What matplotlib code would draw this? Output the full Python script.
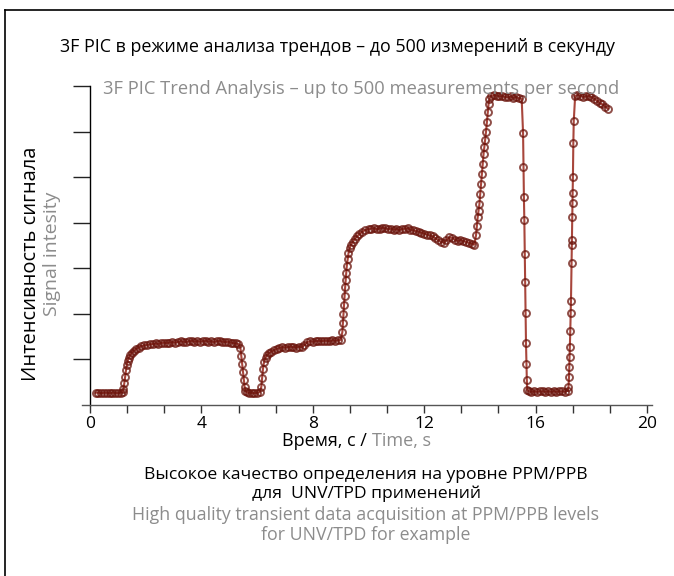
import matplotlib
matplotlib.use("Agg")
import matplotlib.pyplot as plt
from matplotlib.lines import Line2D
from matplotlib.ticker import MultipleLocator, FixedLocator, NullFormatter

plt.rcParams['font.family'] = ['Open Sans', 'DejaVu Sans']

# ---- data ----
t_base = [0.2, 0.3, 0.4, 0.5, 0.6, 0.7, 0.8, 0.9, 1.0, 1.1, 1.17]
v_base = [0.27, 0.27, 0.26, 0.27, 0.27, 0.26, 0.27, 0.27, 0.26, 0.27, 0.28]

t_rise1 = [1.20, 1.23, 1.26, 1.29, 1.32, 1.35, 1.39, 1.44, 1.50, 1.57, 1.65, 1.74, 1.84, 1.95]
v_rise1 = [0.36, 0.48, 0.62, 0.76, 0.88, 0.97, 1.04, 1.10, 1.15, 1.19, 1.23, 1.26, 1.29, 1.31]

t_plat1 = [2.05, 2.15, 2.25, 2.35, 2.45, 2.55, 2.65, 2.75, 2.85, 2.95, 3.05, 3.15, 3.25, 3.35,
           3.45, 3.55, 3.65, 3.75, 3.85, 3.95, 4.05, 4.15, 4.25, 4.35, 4.45, 4.55, 4.65, 4.75,
           4.85, 4.95, 5.05, 5.15, 5.25, 5.33]
v_plat1 = [1.32, 1.33, 1.34, 1.35, 1.34, 1.36, 1.37, 1.36, 1.37, 1.38, 1.37, 1.38, 1.40, 1.39,
           1.38, 1.40, 1.41, 1.39, 1.40, 1.39, 1.40, 1.41, 1.39, 1.40, 1.38, 1.40, 1.41, 1.39,
           1.38, 1.39, 1.37, 1.36, 1.35, 1.34]

t_drop1 = [5.40, 5.43, 5.46, 5.49, 5.52, 5.55, 5.58]
v_drop1 = [1.25, 1.08, 0.90, 0.72, 0.55, 0.40, 0.31]

t_low1 = [5.62, 5.70, 5.80, 5.90, 6.00, 6.10]
v_low1 = [0.28, 0.27, 0.27, 0.26, 0.27, 0.28]

t_rise2 = [6.15, 6.18, 6.21, 6.25, 6.30, 6.36, 6.43, 6.50]
v_rise2 = [0.40, 0.60, 0.80, 0.95, 1.04, 1.10, 1.14, 1.17]

t_plat2 = [6.6, 6.7, 6.8, 6.9, 7.0, 7.1, 7.2, 7.3, 7.4, 7.5, 7.6, 7.7, 7.8, 7.9, 8.0, 8.1,
           8.2, 8.3, 8.4, 8.5, 8.6, 8.7, 8.8, 8.9, 9.0]
v_plat2 = [1.20, 1.23, 1.25, 1.27, 1.26, 1.27, 1.28, 1.27, 1.26, 1.28, 1.27, 1.32, 1.38, 1.40,
           1.39, 1.40, 1.41, 1.40, 1.41, 1.41, 1.40, 1.42, 1.41, 1.42, 1.43]

t_rise3 = [9.06, 9.08, 9.10, 9.12, 9.14, 9.16, 9.18, 9.20, 9.22, 9.25, 9.28, 9.32, 9.37, 9.43,
           9.50, 9.58, 9.67, 9.77, 9.88, 10.0]
v_rise3 = [1.60, 1.80, 2.00, 2.20, 2.40, 2.58, 2.75, 2.90, 3.05, 3.20, 3.33, 3.44, 3.52, 3.58,
           3.64, 3.70, 3.75, 3.80, 3.84, 3.86]

t_plat3 = [10.1, 10.2, 10.3, 10.4, 10.5, 10.6, 10.7, 10.8, 10.9, 11.0, 11.1, 11.2, 11.3, 11.4,
           11.5, 11.6, 11.7, 11.8, 11.9, 12.0, 12.1, 12.2, 12.3, 12.4, 12.5, 12.6, 12.7, 12.8,
           12.9, 13.0, 13.1, 13.2, 13.3, 13.4, 13.5, 13.6, 13.7, 13.8]
v_plat3 = [3.87, 3.88, 3.86, 3.87, 3.89, 3.88, 3.86, 3.87, 3.85, 3.86, 3.84, 3.86, 3.87, 3.88,
           3.85, 3.83, 3.82, 3.80, 3.78, 3.76, 3.74, 3.72, 3.70, 3.66, 3.62, 3.58, 3.56, 3.62,
           3.68, 3.67, 3.63, 3.60, 3.62, 3.60, 3.58, 3.56, 3.54, 3.52]

t_rise4 = [13.86, 13.89, 13.92, 13.95, 13.98, 14.01, 14.04, 14.07, 14.10, 14.13, 14.16, 14.19,
           14.22, 14.25, 14.28, 14.31, 14.34]
v_rise4 = [3.72, 3.92, 4.12, 4.26, 4.40, 4.62, 4.84, 5.06, 5.28, 5.50, 5.66, 5.82, 6.00, 6.20,
           6.42, 6.60, 6.72]

t_top1 = [14.4, 14.5, 14.6, 14.7, 14.8, 14.9, 15.0, 15.1, 15.2, 15.3, 15.4, 15.5]
v_top1 = [6.78, 6.80, 6.79, 6.77, 6.78, 6.76, 6.75, 6.77, 6.74, 6.76, 6.73, 6.72]

t_drop2 = [15.55, 15.565, 15.58, 15.595, 15.61, 15.625, 15.64, 15.655, 15.67, 15.685, 15.70]
v_drop2 = [5.96, 5.22, 4.56, 4.06, 3.31, 2.70, 2.02, 1.36, 0.90, 0.55, 0.33]

t_low2 = [15.75, 15.85, 15.95, 16.05, 16.15, 16.25, 16.35, 16.45, 16.55, 16.65, 16.75, 16.85,
          16.95, 17.05, 17.15]
v_low2 = [0.30, 0.29, 0.30, 0.29, 0.30, 0.30, 0.29, 0.30, 0.29, 0.30, 0.29, 0.30, 0.30, 0.29, 0.31]

t_rise5 = [17.18, 17.20, 17.21, 17.22, 17.23, 17.245, 17.26, 17.27, 17.29, 17.30, 17.305,
           17.315, 17.325, 17.33, 17.34, 17.355, 17.37]
v_rise5 = [0.39, 0.61, 0.83, 1.05, 1.27, 1.62, 2.02, 2.28, 3.11, 3.51, 3.62, 4.12, 4.43, 4.65,
           5.00, 5.75, 6.23]

t_top2 = [17.42, 17.5, 17.6, 17.7, 17.8, 17.9, 18.0, 18.1, 18.2, 18.3, 18.4, 18.5, 18.6]
v_top2 = [6.78, 6.80, 6.79, 6.76, 6.77, 6.78, 6.76, 6.72, 6.68, 6.62, 6.60, 6.55, 6.50]

time = (t_base + t_rise1 + t_plat1 + t_drop1 + t_low1 + t_rise2 + t_plat2 + t_rise3 + t_plat3
        + t_rise4 + t_top1 + t_drop2 + t_low2 + t_rise5 + t_top2)
signal = (v_base + v_rise1 + v_plat1 + v_drop1 + v_low1 + v_rise2 + v_plat2 + v_rise3 + v_plat3
          + v_rise4 + v_top1 + v_drop2 + v_low2 + v_rise5 + v_top2)

x_ticklabels = ['0', '4', '8', '12', '16', '20']
x_major = [0, 4, 8, 12, 16, 20]

GRAY = '#8c8c8c'
DARK = '#6a140c'
LINE = '#a8463c'

W, H = 674, 576
fig = plt.figure(figsize=(W / 100, H / 100), dpi=100)

def fx(px):
    return px / W

def fy(py):
    return 1 - py / H

ax = fig.add_axes([fx(82), fy(405), (652 - 82) / W, (405 - 86) / H])
ax.set_xlim(-0.29, 20.18)
ax.set_ylim(0, 7)

ax.plot(time, signal, color=LINE, lw=1.5, zorder=2)
ax.plot(time, signal, ls='none', marker='o', ms=5, mfc='none', mec=DARK, mew=1.4,
        alpha=0.75, zorder=3)

for s in ['top', 'right']:
    ax.spines[s].set_visible(False)
ax.spines['left'].set_position(('data', 0))
ax.spines['left'].set_color('black')
ax.spines['left'].set_linewidth(1.0)
ax.spines['bottom'].set_color('#555555')
ax.spines['bottom'].set_linewidth(1.0)

ax.xaxis.set_major_locator(FixedLocator(x_major))
ax.set_xticklabels(x_ticklabels)
ax.xaxis.set_minor_locator(MultipleLocator(4 / 3))
ax.tick_params(axis='x', which='both', direction='out', length=6, width=1, color='#333333',
               labelsize=12.5, pad=2, labelcolor='black')
ax.yaxis.set_major_locator(FixedLocator([1, 2, 3, 4, 5, 6, 7]))
ax.yaxis.set_major_formatter(NullFormatter())
ax.tick_params(axis='y', which='both', direction='out', length=12, width=1, color='#222222')

# texts
fig.text(fx(337), fy(47), '3F PIC в режиме анализа трендов – до 500 измерений в секунду',
         ha='center', va='center', fontsize=12.9, color='black')
fig.text(fx(103), fy(89), '3F PIC Trend Analysis – up to 500 measurements per second',
         ha='left', va='center', fontsize=13.2, color=GRAY, zorder=1)
fig.text(fx(31), fy(264), 'Интенсивность сигнала', rotation=90, ha='center', va='center',
         fontsize=14.5, color='black')
fig.text(fx(52), fy(254), 'Signal intesity', rotation=90, ha='center', va='center',
         fontsize=14, color=GRAY)
fig.text(fx(367), fy(441), 'Время, с /', ha='right', va='center', fontsize=13, color='black')
fig.text(fx(372), fy(441), 'Time, s', ha='left', va='center', fontsize=13, color=GRAY)
fig.text(fx(366), fy(475), 'Высокое качество определения на уровне PPM/PPB',
         ha='center', va='center', fontsize=12.6, color='black')
fig.text(fx(366), fy(494), 'для  UNV/TPD применений',
         ha='center', va='center', fontsize=12.6, color='black')
fig.text(fx(366), fy(515), 'High quality transient data acquisition at PPM/PPB levels',
         ha='center', va='center', fontsize=12.8, color=GRAY)
fig.text(fx(366), fy(535), 'for UNV/TPD for example',
         ha='center', va='center', fontsize=12.8, color=GRAY)

# frame (left and top edges)
fig.add_artist(Line2D([fx(5), fx(5)], [fy(10), 0], transform=fig.transFigure,
                      color='black', lw=1.2))
fig.add_artist(Line2D([fx(5), 1], [fy(10), fy(10)], transform=fig.transFigure,
                      color='black', lw=1.2))

fig.savefig('out.png', dpi=100)
